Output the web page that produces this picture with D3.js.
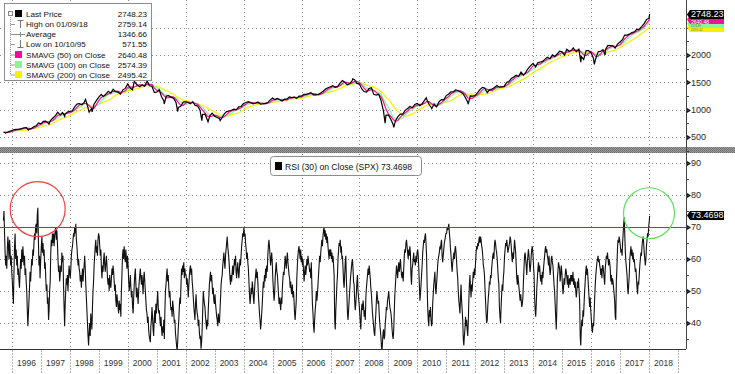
<!DOCTYPE html>
<html>
<head>
<meta charset="utf-8">
<script src="https://cdnjs.cloudflare.com/ajax/libs/d3/7.8.5/d3.min.js"></script>
<style>
body { margin: 0; background: #fff; }
svg { display: block; font-family: "Liberation Sans", Arial, sans-serif; }
</style>
</head>
<body>
<script>
// ---- SPX monthly closes (month end) ----
var px1995 = [584, 582, 605, 616]; // Sep..Dec
var px1996 = [636, 640, 645, 654, 669, 671, 640, 652, 687, 705, 757, 741];
var px1997 = [786, 791, 757, 801, 848, 885, 954, 899, 947, 915, 955, 970];
var px1998 = [980, 1049, 1102, 1112, 1091, 1134, 1121, 957, 1017, 1099, 1164, 1229];
var px1999 = [1280, 1238, 1286, 1335, 1302, 1373, 1329, 1320, 1283, 1363, 1389, 1469];
var px2000 = [1394, 1366, 1499, 1452, 1421, 1455, 1431, 1518, 1437, 1429, 1315, 1320];
var px2001 = [1366, 1240, 1160, 1249, 1256, 1224, 1211, 1134, 1041, 1060, 1139, 1148];
var px2002 = [1130, 1107, 1147, 1077, 1067, 990, 912, 916, 815, 886, 936, 880];
var px2003 = [856, 841, 848, 917, 964, 975, 990, 1008, 996, 1051, 1058, 1112];
var px2004 = [1131, 1145, 1126, 1107, 1121, 1141, 1102, 1104, 1115, 1130, 1174, 1212];
var px2005 = [1181, 1204, 1181, 1157, 1192, 1191, 1234, 1220, 1229, 1207, 1249, 1248];
var px2006 = [1280, 1281, 1295, 1311, 1270, 1270, 1277, 1304, 1336, 1378, 1401, 1418];
var px2007 = [1438, 1407, 1421, 1482, 1531, 1503, 1455, 1474, 1527, 1549, 1481, 1468];
var px2008 = [1379, 1331, 1323, 1386, 1400, 1280, 1267, 1283, 1165, 969, 896, 903];
var px2009 = [826, 735, 798, 873, 919, 919, 987, 1021, 1057, 1036, 1096, 1115];
var px2010 = [1074, 1104, 1169, 1187, 1089, 1031, 1102, 1049, 1141, 1183, 1181, 1258];
var px2011 = [1286, 1327, 1326, 1364, 1345, 1321, 1292, 1219, 1131, 1253, 1247, 1258];
var px2012 = [1312, 1366, 1408, 1398, 1310, 1362, 1379, 1407, 1441, 1412, 1416, 1426];
var px2013 = [1498, 1515, 1569, 1598, 1631, 1606, 1686, 1633, 1682, 1757, 1806, 1848];
var px2014 = [1783, 1859, 1872, 1884, 1924, 1960, 1931, 2003, 1972, 2018, 2068, 2059];
var px2015 = [1995, 2105, 2068, 2086, 2107, 2063, 2104, 1972, 1920, 2079, 2080, 2044];
var px2016 = [1940, 1932, 2060, 2065, 2097, 2099, 2174, 2171, 2168, 2126, 2199, 2239];
var px2017 = [2279, 2364, 2363, 2384, 2412, 2423, 2470, 2472, 2519, 2575, 2648, 2674];
var pxLast = ["2018-01-09", 2748.23];

// intra-month highs / lows that show on the price line
var pxExtremes = [
	["1995-10-10", 571.55], ["1996-07-24", 626], ["1997-04-11", 737], ["1997-10-27", 877],
	["1998-07-17", 1187], ["1998-10-08", 960], ["2000-03-24", 1527], ["2000-09-01", 1520],
	["2001-04-04", 1103], ["2001-09-21", 966], ["2002-07-23", 797], ["2002-10-09", 777],
	["2003-03-11", 800], ["2007-10-09", 1565], ["2008-11-20", 752], ["2009-03-09", 677],
	["2010-04-23", 1217], ["2010-07-02", 1022], ["2011-04-29", 1364], ["2011-10-03", 1099],
	["2015-05-21", 2131], ["2015-08-25", 1868], ["2016-02-11", 1829], ["2016-06-27", 2000]
];

// ---- RSI(30), weekly readings (52 a year from Jan 5) ----
var rsi1995 = [72, 75, 68, 62, 58, 61, 57, 63, 67, 64, 60, 66, 63, 58, 61, 56]; // from Sep 15
var rsi1996 = [53, 49, 46, 56, 64, 68, 60, 63, 58, 61, 55, 57, 53, 51, 56, 60, 57, 63, 59, 64, 61, 58, 61, 55, 57, 53,
	50, 44, 39, 43, 47, 51, 56, 53, 57, 60, 58, 63, 61, 65, 68, 66, 70, 71, 68, 74, 76, 66, 58, 61, 54, 59];
var rsi1997 = [64, 67, 62, 65, 61, 63, 57, 59, 54, 50, 52, 46, 48, 41, 44, 50, 53, 62, 66, 64, 68, 65, 68, 64, 67, 69,
	70, 66, 69, 65, 60, 56, 58, 53, 55, 58, 56, 62, 59, 61, 52, 45, 39, 46, 50, 54, 52, 55, 50, 54, 58, 56];
var rsi1998 = [54, 57, 61, 63, 64, 66, 68, 67, 70, 68, 71, 66, 64, 61, 58, 60, 57, 56, 53, 55, 51, 54, 57, 53, 56, 58,
	61, 57, 52, 48, 44, 40, 36, 33, 37, 40, 36, 43, 41, 38, 45, 50, 53, 58, 61, 64, 66, 62, 64, 61, 66, 68];
var rsi1999 = [67, 64, 61, 63, 57, 54, 58, 56, 60, 62, 58, 56, 59, 61, 58, 54, 52, 54, 50, 55, 52, 51, 54, 57, 55, 58,
	56, 53, 50, 52, 47, 45, 49, 47, 45, 43, 47, 44, 46, 42, 50, 55, 61, 63, 60, 64, 61, 59, 63, 60, 57, 61];
var rsi2000 = [58, 53, 50, 52, 55, 51, 48, 50, 45, 43, 48, 52, 55, 57, 52, 48, 51, 49, 46, 50, 53, 55, 57, 54, 52, 55,
	52, 49, 54, 56, 53, 50, 47, 44, 43, 40, 42, 38, 36, 35, 34, 39, 41, 45, 42, 38, 36, 41, 44, 40, 46, 43];
var rsi2001 = [47, 50, 45, 43, 44, 41, 39, 42, 38, 36, 39, 37, 41, 35, 44, 50, 52, 55, 57, 53, 55, 51, 48, 50, 46, 44,
	45, 42, 47, 45, 43, 40, 41, 37, 35, 33, 31, 34, 38, 41, 45, 48, 46, 52, 57, 55, 58, 56, 59, 54, 57, 55];
var rsi2002 = [55, 52, 54, 51, 48, 52, 55, 57, 58, 55, 57, 53, 51, 48, 45, 43, 41, 46, 49, 45, 43, 42, 39, 41, 37, 35,
	36, 32, 34, 38, 44, 50, 48, 46, 45, 42, 40, 38, 41, 39, 44, 48, 52, 54, 56, 53, 55, 52, 49, 51, 47, 46];
var rsi2003 = [49, 46, 44, 42, 41, 39, 43, 41, 40, 44, 48, 52, 54, 55, 58, 60, 62, 59, 57, 61, 63, 65, 67, 64, 62, 60,
	57, 54, 52, 55, 53, 56, 58, 55, 57, 60, 58, 61, 56, 54, 57, 59, 56, 54, 57, 60, 58, 61, 64, 66, 68, 67];
var rsi2004 = [70, 67, 68, 65, 63, 60, 62, 59, 57, 53, 49, 46, 48, 51, 49, 53, 51, 48, 46, 50, 53, 55, 57, 54, 56, 53,
	49, 46, 43, 41, 38, 40, 43, 46, 50, 53, 51, 55, 53, 57, 54, 58, 56, 61, 64, 66, 64, 61, 58, 60, 62, 59];
var rsi2005 = [53, 50, 47, 49, 54, 57, 59, 56, 55, 52, 49, 46, 48, 46, 44, 48, 46, 51, 54, 56, 55, 58, 61, 59, 57, 60,
	62, 59, 57, 55, 54, 51, 53, 50, 49, 52, 48, 50, 47, 43, 41, 44, 47, 54, 58, 61, 63, 64, 62, 60, 63, 59];
var rsi2006 = [61, 58, 60, 56, 53, 56, 58, 55, 57, 60, 58, 61, 59, 58, 56, 57, 54, 59, 52, 46, 43, 39, 37, 41, 44, 46,
	50, 47, 49, 52, 55, 58, 61, 59, 62, 64, 66, 64, 67, 69, 70, 67, 69, 66, 68, 65, 67, 64, 62, 60, 63, 61];
var rsi2007 = [63, 60, 62, 59, 61, 58, 55, 41, 38, 44, 48, 52, 55, 60, 63, 65, 64, 66, 62, 64, 60, 61, 57, 53, 51, 55,
	59, 61, 54, 49, 43, 41, 44, 47, 50, 53, 55, 57, 59, 60, 57, 53, 52, 47, 44, 46, 49, 53, 55, 50, 48, 46];
var rsi2008 = [43, 40, 38, 44, 46, 44, 47, 45, 42, 44, 41, 48, 51, 53, 55, 57, 55, 58, 56, 54, 51, 49, 46, 43, 41, 39,
	37, 36, 40, 43, 47, 50, 48, 46, 47, 43, 40, 38, 36, 33, 31, 34, 37, 38, 35, 36, 40, 42, 45, 44, 47, 48];
var rsi2009 = [50, 47, 45, 44, 43, 41, 38, 36, 35, 38, 44, 49, 52, 55, 58, 56, 54, 57, 59, 56, 58, 60, 57, 55, 54, 56,
	53, 57, 61, 63, 62, 65, 66, 64, 62, 60, 63, 61, 64, 62, 55, 52, 57, 58, 60, 62, 59, 60, 58, 61, 59, 62];
var rsi2010 = [63, 61, 57, 52, 47, 49, 52, 55, 58, 62, 64, 66, 65, 67, 68, 65, 61, 52, 45, 41, 39, 44, 42, 45, 41, 39,
	40, 46, 49, 52, 54, 56, 51, 49, 52, 55, 58, 60, 61, 62, 64, 63, 65, 66, 61, 59, 61, 63, 65, 66, 67, 68];
var rsi2011 = [68, 70, 69, 70, 71, 68, 66, 63, 61, 58, 56, 59, 60, 62, 60, 63, 64, 62, 59, 56, 54, 50, 47, 45, 43, 48,
	52, 47, 44, 41, 35, 33, 36, 38, 42, 39, 41, 38, 36, 40, 47, 52, 55, 51, 48, 52, 50, 53, 56, 54, 57, 55];
var rsi2012 = [59, 62, 64, 63, 65, 64, 66, 67, 65, 67, 66, 64, 63, 61, 58, 57, 55, 51, 47, 43, 40, 41, 45, 48, 50, 53,
	52, 55, 54, 57, 59, 61, 62, 60, 64, 66, 65, 63, 62, 60, 57, 54, 52, 45, 42, 40, 45, 49, 52, 50, 54, 56];
var rsi2013 = [61, 63, 65, 64, 66, 64, 62, 63, 64, 65, 67, 66, 64, 61, 59, 62, 60, 63, 66, 64, 62, 58, 54, 52, 55, 53,
	51, 49, 47, 49, 47, 45, 46, 48, 53, 57, 61, 62, 60, 58, 55, 59, 61, 63, 61, 58, 56, 58, 61, 63, 64, 62];
var rsi2014 = [58, 55, 48, 44, 42, 46, 51, 54, 57, 59, 56, 58, 55, 53, 55, 52, 56, 54, 57, 59, 61, 63, 64, 62, 63, 61,
	60, 58, 61, 57, 55, 57, 60, 61, 59, 58, 55, 52, 50, 46, 42, 38, 44, 54, 56, 59, 58, 57, 53, 55, 58, 56];
var rsi2015 = [52, 49, 51, 54, 52, 55, 57, 56, 54, 52, 55, 51, 53, 54, 52, 55, 53, 55, 53, 56, 52, 54, 51, 53, 50, 48,
	50, 53, 51, 54, 50, 47, 36, 33, 38, 41, 39, 44, 42, 46, 50, 53, 56, 58, 55, 57, 54, 51, 48, 45, 48, 44];
var rsi2016 = [41, 38, 37, 40, 39, 43, 48, 52, 55, 57, 59, 60, 61, 59, 60, 58, 57, 55, 57, 54, 58, 58, 56, 54, 52, 57,
	59, 61, 60, 62, 60, 58, 60, 59, 57, 53, 55, 52, 54, 53, 51, 49, 47, 42, 41, 53, 57, 63, 66, 65, 67, 66];
var rsi2017 = [64, 62, 63, 61, 65, 68, 71, 73, 67, 62, 59, 57, 55, 51, 49, 52, 55, 60, 62, 64, 61, 63, 60, 62, 59, 60,
	58, 56, 57, 54, 51, 49, 53, 52, 55, 58, 60, 62, 61, 64, 66, 67, 65, 62, 60, 58, 60, 64, 66, 68, 67, 70];
var rsi2018 = [["2018-01-05", 72], ["2018-01-09", 73.4698]];

// ---- labels / ticks ----
var yearLabels = ["1996", "1997", "1998", "1999", "2000", "2001", "2002", "2003", "2004", "2005", "2006",
	"2007", "2008", "2009", "2010", "2011", "2012", "2013", "2014", "2015", "2016", "2017", "2018"];
var gridYears = [1996, 1998, 2000, 2002, 2004, 2006, 2008, 2010, 2012, 2014, 2016, 2018];
var priceTicks = [500, 1000, 1500, 2000];
var priceGrid = [500, 1000, 1500, 2000, 2500];
var rsiTicks = [40, 50, 60, 70, 80, 90];
var rsiGrid = [40, 50, 60, 80, 90];
var rsiLevel = 70;

var legendNames = ["Last Price", "High on 01/09/18", "Average", "Low on 10/10/95",
	"SMAVG (50) on Close", "SMAVG (100) on Close", "SMAVG (200) on Close"];
var legendValues = ["2748.23", "2759.14", "1346.66", "571.55", "2640.48", "2574.39", "2495.42"];
var smaWindows = [3, 5, 10]; // 50 / 100 / 200 trading days, in months
var smaColors = ["#f0109a", "#8cf59a", "#f5f000"];
var smaLast = [2640.48, 2574.39, 2495.42];

// circled areas on the RSI panel
var circles = [
	{ date: "1996-11-20", v: 75.6, r: 27.5, color: "#ee4040" },
	{ date: "2018-01-01", v: 74.3, r: 25.5, color: "#5ee05e" }
];

// ---- build series ----
var parse = d3.timeParse("%Y-%m-%d");

var monthly = [];
var pxYears = [px1995, px1996, px1997, px1998, px1999, px2000, px2001, px2002, px2003, px2004, px2005,
	px2006, px2007, px2008, px2009, px2010, px2011, px2012, px2013, px2014, px2015, px2016, px2017];
pxYears.forEach(function(arr, yi) {
	var yr = 1995 + yi;
	var m0 = yi == 0 ? 8 : 0;
	arr.forEach(function(v, i) {
		monthly.push({ date: new Date(yr, m0 + i + 1, 0), v: v });
	});
});
monthly.push({ date: parse(pxLast[0]), v: pxLast[1] });

var price = monthly.concat(pxExtremes.map(function(d) { return { date: parse(d[0]), v: d[1] }; }));
price.sort(function(a, b) { return a.date - b.date; });
price.unshift({ date: new Date(1995, 8, 15), v: 588 });

var sma = smaWindows.map(function(n) {
	return monthly.map(function(d, i) {
		var s = monthly.slice(Math.max(0, i - n + 1), i + 1);
		return { date: d.date, v: d3.mean(s, function(e) { return e.v; }) };
	});
});

var rsi = rsi1995.map(function(v, k) { return { date: new Date(1995, 8, 15 + 7 * k), v: v }; });
var rsiYears = [rsi1996, rsi1997, rsi1998, rsi1999, rsi2000, rsi2001, rsi2002, rsi2003, rsi2004, rsi2005,
	rsi2006, rsi2007, rsi2008, rsi2009, rsi2010, rsi2011, rsi2012, rsi2013, rsi2014, rsi2015, rsi2016, rsi2017];
rsiYears.forEach(function(arr, yi) {
	arr.forEach(function(v, k) {
		rsi.push({ date: new Date(1996 + yi, 0, 5 + 7 * k), v: v });
	});
});
rsi2018.forEach(function(d) { rsi.push({ date: parse(d[0]), v: d[1] }); });
var rsiLast = rsi2018[rsi2018.length - 1][1];

// ---- layout ----
var W = 735, H = 374;
var plotR = 686;
var topB = 147, botT = 154, botB = 349;

var x = d3.scaleTime().domain([new Date(1996, 0, 1), new Date(2018, 0, 1)]).range([12, 649]);
var yP = d3.scaleLinear().domain([317, 3006]).range([topB, 0]);
var yR = d3.scaleLinear().domain([31.9, 92.8]).range([botB, botT]);

var svg = d3.select("body").append("svg")
	.attr("width", W)
	.attr("height", H);

var defs = svg.append("defs");
defs.append("clipPath").attr("id", "clipTop")
	.append("rect").attr("x", 0).attr("y", 0).attr("width", plotR).attr("height", topB);
defs.append("clipPath").attr("id", "clipBot")
	.append("rect").attr("x", 0).attr("y", botT).attr("width", plotR).attr("height", botB - botT);
var pat = defs.append("pattern").attr("id", "hatch")
	.attr("width", 2).attr("height", 2).attr("patternUnits", "userSpaceOnUse");
pat.append("rect").attr("width", 2).attr("height", 2).attr("fill", "#9a9a9a");
pat.append("rect").attr("width", 1).attr("height", 1).attr("fill", "#6e6e6e");
pat.append("rect").attr("x", 1).attr("y", 1).attr("width", 1).attr("height", 1).attr("fill", "#7a7a7a");

// ---- grids ----
var dotted = function(sel) {
	sel.attr("stroke", "#8a8a8a").attr("stroke-width", 1).attr("stroke-dasharray", "1,3").attr("shape-rendering", "crispEdges");
};

var gGrid = svg.append("g");
gGrid.selectAll(".hp").data(priceGrid).enter().append("line")
	.attr("x1", 0).attr("x2", plotR)
	.attr("y1", function(d) { return Math.round(yP(d)) + 0.5; })
	.attr("y2", function(d) { return Math.round(yP(d)) + 0.5; })
	.call(dotted);
gGrid.selectAll(".hr").data(rsiGrid).enter().append("line")
	.attr("x1", 0).attr("x2", plotR)
	.attr("y1", function(d) { return Math.round(yR(d)) + 0.5; })
	.attr("y2", function(d) { return Math.round(yR(d)) + 0.5; })
	.call(dotted);
[[0, topB], [botT, botB]].forEach(function(span) {
	gGrid.selectAll(null).data(gridYears).enter().append("line")
		.attr("x1", function(d) { return Math.round(x(new Date(d, 0, 1))) + 0.5; })
		.attr("x2", function(d) { return Math.round(x(new Date(d, 0, 1))) + 0.5; })
		.attr("y1", span[0]).attr("y2", span[1])
		.call(dotted);
});

// ---- price panel ----
var lineP = d3.line()
	.x(function(d) { return x(d.date); })
	.y(function(d) { return yP(d.v); });

var gTop = svg.append("g").attr("clip-path", "url(#clipTop)");
for (var s = sma.length - 1; s >= 0; s--) {
	gTop.append("path").datum(sma[s])
		.attr("d", lineP)
		.attr("fill", "none")
		.attr("stroke", smaColors[s])
		.attr("stroke-width", 1.2);
}
gTop.append("path").datum(price)
	.attr("d", lineP)
	.attr("fill", "none")
	.attr("stroke", "#000")
	.attr("stroke-width", 1.2);

// ---- separator band ----
svg.append("rect")
	.attr("x", 0).attr("y", topB).attr("width", W).attr("height", botT - topB - 1)
	.attr("fill", "url(#hatch)");

// ---- RSI panel ----
var lineR = d3.line()
	.x(function(d) { return x(d.date); })
	.y(function(d) { return yR(d.v); });

var gBot = svg.append("g").attr("clip-path", "url(#clipBot)");
gBot.append("path").datum(rsi)
	.attr("d", lineR)
	.attr("fill", "none")
	.attr("stroke", "#111")
	.attr("stroke-width", 1.1)
	.attr("stroke-linejoin", "bevel");

// 70 level drawn over the RSI line
svg.append("line")
	.attr("x1", 0).attr("x2", plotR)
	.attr("y1", Math.round(yR(rsiLevel)) + 0.5).attr("y2", Math.round(yR(rsiLevel)) + 0.5)
	.attr("stroke", "#f01818").attr("stroke-width", 1)
	.attr("shape-rendering", "crispEdges");

svg.selectAll(".circ").data(circles).enter().append("circle")
	.attr("cx", function(d) { return x(parse(d.date)); })
	.attr("cy", function(d) { return yR(d.v); })
	.attr("r", function(d) { return d.r; })
	.attr("fill", "none")
	.attr("stroke", function(d) { return d.color; })
	.attr("stroke-width", 1.2);

// ---- right axes ----
svg.append("line")
	.attr("x1", plotR + 0.5).attr("x2", plotR + 0.5).attr("y1", 0).attr("y2", botB)
	.attr("stroke", "#444").attr("stroke-width", 1);

var axisLabels = function(ticks, scale) {
	var g = svg.append("g");
	g.selectAll("path").data(ticks).enter().append("path")
		.attr("d", function(d) {
			var yy = Math.round(scale(d)) + 0.5;
			return "M" + (plotR + 1) + "," + (yy - 2.5) + "L" + (plotR + 5) + "," + yy + "L" + (plotR + 1) + "," + (yy + 2.5) + "Z";
		})
		.attr("fill", "#111");
	g.selectAll("text").data(ticks).enter().append("text")
		.attr("x", plotR + 5)
		.attr("y", function(d) { return scale(d) + 3.3; })
		.attr("font-size", "9px")
		.attr("fill", "#2a2a2a")
		.text(function(d) { return d; });
};
axisLabels(priceTicks, yP);
axisLabels(rsiTicks, yR);

// minor ticks on the axis line
var minorP = d3.range(250, 3000, 250), minorR = d3.range(35, 95, 5);
svg.selectAll(".mp").data(minorP).enter().append("line")
	.attr("x1", plotR).attr("x2", plotR + 3)
	.attr("y1", function(d) { return Math.round(yP(d)) + 0.5; })
	.attr("y2", function(d) { return Math.round(yP(d)) + 0.5; })
	.attr("stroke", "#444");
svg.selectAll(".mr").data(minorR).enter().append("line")
	.attr("x1", plotR).attr("x2", plotR + 3)
	.attr("y1", function(d) { return Math.round(yR(d)) + 0.5; })
	.attr("y2", function(d) { return Math.round(yR(d)) + 0.5; })
	.attr("stroke", "#444");

// value tags (the SMA ones are stacked under each other, only a strip shows)
var drawTag = function(cy, fill) {
	var t = Math.round(cy - 4.5), b = t + 9;
	svg.append("path")
		.attr("d", "M" + (plotR + 1) + "," + (t + 4.5) + "L" + (plotR + 4) + "," + t + "L724," + t + "L724," + b + "L" + (plotR + 4) + "," + b + "Z")
		.attr("fill", fill);
	return [t, b];
};
var tagText = function(txt, baseline, size, fill) {
	svg.append("text")
		.attr("x", plotR + 5).attr("y", baseline)
		.attr("font-size", size + "px")
		.attr("fill", fill)
		.text(txt);
};
var tY = drawTag(yP(smaLast[2]), smaColors[2]);
var tG = drawTag(yP(smaLast[1]), smaColors[1]);
var tM = drawTag(yP(smaLast[0]), smaColors[0]);
var tK = drawTag(yP(pxLast[1]), "#000");
tagText(legendValues[0], tK[1] - 1.6, 9, "#fff");
tagText(legendValues[4], tK[1] + 5, 5, "#fff");
tagText(legendValues[5], tM[1] + 2.6, 2.7, "#666");
tagText(legendValues[6], tG[1] + 3.1, 3.2, "#777");
var tR = drawTag(yR(rsiLast), "#000");
tagText(d3.format(".4f")(rsiLast), tR[1] - 1.6, 9, "#fff");

// ---- x axis ----
svg.append("line")
	.attr("x1", 0).attr("x2", plotR).attr("y1", botB + 0.5).attr("y2", botB + 0.5)
	.attr("stroke", "#333");
var gx = svg.append("g");
gx.selectAll("line").data(yearLabels.concat(["2019"])).enter().append("line")
	.attr("x1", function(d) { return Math.round(x(new Date(+d, 0, 1))) + 0.5; })
	.attr("x2", function(d) { return Math.round(x(new Date(+d, 0, 1))) + 0.5; })
	.attr("y1", botB + 1).attr("y2", H)
	.attr("stroke", "#b4b4b4")
	.attr("stroke-dasharray", "2,1");
gx.selectAll("text").data(yearLabels).enter().append("text")
	.attr("x", function(d) { return x(new Date(+d, 6, 2)); })
	.attr("y", 366)
	.attr("text-anchor", "middle")
	.attr("font-size", "8.5px")
	.attr("fill", "#333")
	.text(function(d) { return d; });

// ---- top legend ----
var lg = svg.append("g");
lg.append("rect")
	.attr("x", 4.5).attr("y", 3.5).attr("width", 147).attr("height", 77)
	.attr("fill", "#fff").attr("stroke", "#8c8c8c");
var rowY = [14, 24, 34, 44, 54.5, 64.5, 74.5];
lg.append("line").attr("x1", 10.5).attr("x2", 10.5).attr("y1", 17).attr("y2", rowY[6])
	.attr("stroke", "#9a9a9a").attr("stroke-dasharray", "1,1");
lg.selectAll(".stub").data(rowY.slice(1)).enter().append("line")
	.attr("x1", 10.5).attr("x2", 15)
	.attr("y1", function(d) { return d + 0.5; }).attr("y2", function(d) { return d + 0.5; })
	.attr("stroke", "#9a9a9a");
// collapse box
lg.append("rect").attr("x", 8.5).attr("y", 11.5).attr("width", 4).attr("height", 4)
	.attr("fill", "#fff").attr("stroke", "#888");
lg.append("rect").attr("x", 15).attr("y", 10).attr("width", 7).attr("height", 7).attr("fill", "#000");
// high marker
lg.append("path").attr("d", "M17.5,20.5H23.5M20.5,20.5V28").attr("stroke", "#777").attr("fill", "none");
// average marker
lg.append("path").attr("d", "M15,34.5H25M20.5,32V37").attr("stroke", "#888").attr("fill", "none");
// low marker
lg.append("path").attr("d", "M20.5,40V47.5M17.5,47.5H23.5").attr("stroke", "#777").attr("fill", "none");
lg.selectAll(".sw").data(smaColors).enter().append("rect")
	.attr("x", 15).attr("y", function(d, i) { return rowY[4 + i] - 3.5; })
	.attr("width", 7).attr("height", 7)
	.attr("fill", function(d) { return d; });
lg.selectAll(".nm").data(legendNames).enter().append("text")
	.attr("x", 26).attr("y", function(d, i) { return rowY[i] + 3.2; })
	.attr("font-size", "8.1px").attr("fill", "#111")
	.text(function(d) { return d; });
lg.selectAll(".vl").data(legendValues).enter().append("text")
	.attr("x", 147).attr("y", function(d, i) { return rowY[i] + 3.2; })
	.attr("text-anchor", "end")
	.attr("font-size", "8.1px").attr("fill", "#111")
	.text(function(d) { return d; });

// ---- RSI legend ----
var rl = svg.append("g");
rl.append("rect")
	.attr("x", 270.5).attr("y", 156.5).attr("width", 151).attr("height", 19).attr("rx", 3)
	.attr("fill", "#fff").attr("stroke", "#8c8c8c");
rl.append("rect").attr("x", 275).attr("y", 162).attr("width", 7).attr("height", 8).attr("fill", "#000");
rl.append("text")
	.attr("x", 285).attr("y", 169.5)
	.attr("font-size", "8.6px").attr("fill", "#111")
	.text("RSI (30) on Close (SPX) " + d3.format(".4f")(rsiLast));
</script>
</body>
</html>
